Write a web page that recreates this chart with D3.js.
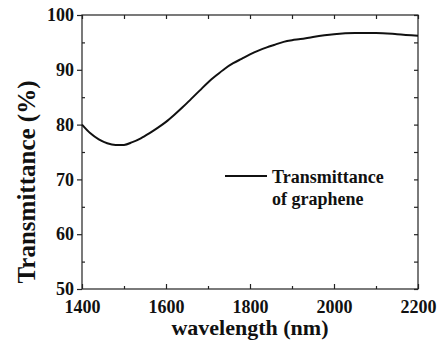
<!DOCTYPE html>
<html>
<head>
<meta charset="utf-8">
<script src="https://cdn.jsdelivr.net/npm/d3@7"></script>
<style>
  body { margin: 0; background: #fff; }
</style>
</head>
<body>
<script>
//data
var wavelength = [1400, 1420, 1440, 1460, 1480, 1500, 1520, 1540, 1560, 1580, 1600, 1620, 1640, 1660, 1680, 1700,
    1720, 1740, 1760, 1780, 1800, 1820, 1840, 1860, 1880, 1900, 1920, 1950, 2000, 2050, 2100, 2150, 2200];
var transmittance = [80.0, 78.4, 77.3, 76.6, 76.3, 76.3, 76.8, 77.5, 78.4, 79.4, 80.5, 81.8, 83.2, 84.7, 86.2, 87.7,
    89.0, 90.2, 91.2, 92.0, 92.8, 93.5, 94.1, 94.6, 95.1, 95.4, 95.6, 96.0, 96.5, 96.7, 96.7, 96.5, 96.2];
var xTicks = [1400, 1600, 1800, 2000, 2200];
var xMinor = [1500, 1700, 1900, 2100];
var yTicks = [50, 60, 70, 80, 90, 100];
var yMinor = [55, 65, 75, 85, 95];
var legendLines = ["Transmittance", "of graphene"];

//screen
var widthScr = 444;
var heightScr = 342;
var left = 82, top_ = 15, right = 418, bottom = 289;
var serif = "'Liberation Serif', 'Times New Roman', 'DejaVu Serif', serif";

var svg = d3.select("body").append("svg")
    .attr("width", widthScr)
    .attr("height", heightScr)
    .attr("font-family", serif)
    .attr("font-weight", "bold");

var x = d3.scaleLinear().domain([1400, 2200]).range([left, right]);
var y = d3.scaleLinear().domain([50, 100]).range([bottom, top_]);

//frame
svg.append("rect")
    .attr("x", left).attr("y", top_)
    .attr("width", right - left).attr("height", bottom - top_)
    .attr("fill", "none").attr("stroke", "#222").attr("stroke-width", 1.2);

//bottom axis
svg.append("g").attr("transform", "translate(0," + bottom + ")")
    .call(d3.axisBottom(x).tickValues(xTicks).tickSize(-5).tickPadding(11).tickFormat(d3.format("d")));
svg.append("g").attr("transform", "translate(0," + bottom + ")")
    .call(d3.axisBottom(x).tickValues(xMinor).tickSize(-3).tickFormat(""));
//top ticks
svg.append("g").attr("transform", "translate(0," + top_ + ")")
    .call(d3.axisTop(x).tickValues(xTicks.concat(xMinor)).tickSize(-4).tickFormat(""));

//left axis
svg.append("g").attr("transform", "translate(" + left + ",0)")
    .call(d3.axisLeft(y).tickValues(yTicks).tickSize(5).tickPadding(3));
svg.append("g").attr("transform", "translate(" + left + ",0)")
    .call(d3.axisLeft(y).tickValues(yMinor).tickSize(-3).tickFormat(""));
//right ticks
svg.append("g").attr("transform", "translate(" + right + ",0)")
    .call(d3.axisRight(y).tickValues(yTicks.concat(yMinor)).tickSize(-4).tickFormat(""));

svg.selectAll(".domain").remove();
svg.selectAll("g").attr("font-family", serif).attr("font-size", 18).attr("font-weight", "bold");
svg.selectAll(".tick line").attr("stroke", "#222").attr("stroke-width", 1.2);
svg.selectAll(".tick text").attr("fill", "#111");

//axis titles
svg.append("text")
    .attr("x", (left + right) / 2)
    .attr("y", 335)
    .attr("text-anchor", "middle")
    .attr("font-size", 22)
    .attr("fill", "#111")
    .text("wavelength (nm)");

svg.append("text")
    .attr("transform", "translate(35,182) rotate(-90)")
    .attr("text-anchor", "middle")
    .attr("font-size", 25)
    .attr("fill", "#111")
    .text("Transmittance (%)");

//curve
var line = d3.line()
    .x(function(d, i) { return x(wavelength[i]); })
    .y(function(d) { return y(d); })
    .curve(d3.curveMonotoneX);

svg.append("path")
    .datum(transmittance)
    .attr("d", line)
    .attr("fill", "none")
    .attr("stroke", "#111")
    .attr("stroke-width", 2);

//legend
svg.append("line")
    .attr("x1", 225).attr("x2", 267)
    .attr("y1", 176).attr("y2", 176)
    .attr("stroke", "#111").attr("stroke-width", 2);

svg.selectAll(".legend")
    .data(legendLines)
    .enter().append("text")
    .attr("class", "legend")
    .attr("x", 272)
    .attr("y", function(d, i) { return 183 + i * 22; })
    .attr("font-size", 18)
    .attr("fill", "#111")
    .text(function(d) { return d; });
</script>
</body>
</html>
